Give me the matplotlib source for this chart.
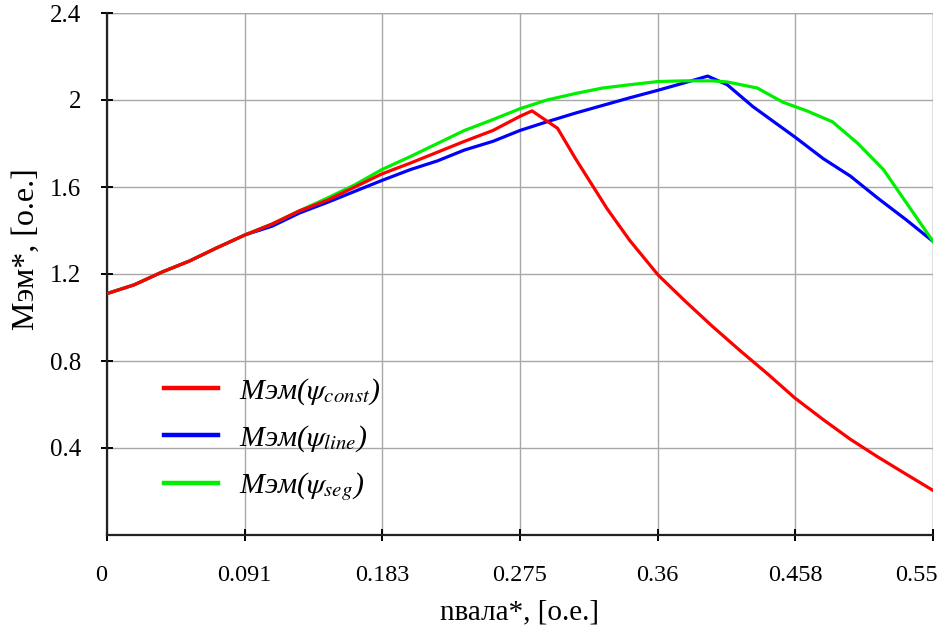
import matplotlib
matplotlib.use('Agg')
import matplotlib.pyplot as plt
import matplotlib.transforms as mtransforms

plt.rcParams['font.family'] = ['Liberation Serif', 'DejaVu Serif']
plt.rcParams['mathtext.fontset'] = 'stix'

# DATA
x_const = [0, 0.018, 0.037, 0.055, 0.073, 0.092, 0.110, 0.128, 0.147, 0.165, 0.183,
           0.202, 0.220, 0.238, 0.257, 0.275, 0.283, 0.300, 0.312, 0.333, 0.348, 0.367,
           0.385, 0.403, 0.422, 0.440, 0.458, 0.477, 0.495, 0.513, 0.532, 0.550]
m_const = [1.11, 1.15, 1.21, 1.26, 1.32, 1.38, 1.43, 1.49, 1.54, 1.60, 1.66,
           1.71, 1.76, 1.81, 1.86, 1.925, 1.95, 1.87, 1.73, 1.50, 1.355, 1.195,
           1.075, 0.96, 0.845, 0.74, 0.63, 0.53, 0.44, 0.36, 0.28, 0.205]

x_line = [0, 0.018, 0.037, 0.055, 0.073, 0.092, 0.110, 0.128, 0.147, 0.165, 0.183,
          0.202, 0.220, 0.238, 0.257, 0.275, 0.293, 0.312, 0.330, 0.348, 0.367, 0.385,
          0.400, 0.413, 0.430, 0.440, 0.458, 0.477, 0.495, 0.513, 0.532, 0.550]
m_line = [1.11, 1.15, 1.21, 1.26, 1.32, 1.38, 1.42, 1.48, 1.53, 1.58, 1.63,
          1.68, 1.72, 1.77, 1.81, 1.86, 1.90, 1.94, 1.975, 2.01, 2.045, 2.08,
          2.11, 2.07, 1.97, 1.92, 1.83, 1.73, 1.65, 1.55, 1.45, 1.35]

x_seg = [0, 0.018, 0.037, 0.055, 0.073, 0.092, 0.110, 0.128, 0.147, 0.165, 0.183,
         0.202, 0.220, 0.238, 0.257, 0.275, 0.293, 0.312, 0.330, 0.348, 0.367, 0.385,
         0.403, 0.413, 0.433, 0.450, 0.466, 0.483, 0.500, 0.517, 0.532, 0.550]
m_seg = [1.11, 1.15, 1.21, 1.26, 1.32, 1.38, 1.43, 1.49, 1.55, 1.61, 1.68,
         1.74, 1.80, 1.86, 1.91, 1.96, 2.00, 2.03, 2.055, 2.07, 2.085, 2.088,
         2.088, 2.083, 2.055, 1.99, 1.95, 1.90, 1.80, 1.68, 1.53, 1.35]

x_ticks = [0, 0.55 / 6, 0.55 * 2 / 6, 0.55 * 3 / 6, 0.55 * 4 / 6, 0.55 * 5 / 6, 0.55]
x_tick_labels = ['0', '0.091', '0.183', '0.275', '0.36', '0.458', '0.55']
y_ticks = [0.4, 0.8, 1.2, 1.6, 2.0, 2.4]
y_tick_labels = ['0.4', '0.8', '1.2', '1.6', '2', '2.4']

labels = [r'Mэм($\psi_{const}$)', r'Mэм($\psi_{line}$)', r'Mэм($\psi_{seg}$)']

# FIGURE
fig = plt.figure(figsize=(9.42, 6.37), dpi=100)
ax = fig.add_axes([107 / 942, 1 - 535 / 637, 826 / 942, 522 / 637])

ax.plot(x_const, m_const, color='#ff0000', lw=2.3, label=labels[0], zorder=4)
ax.plot(x_line, m_line, color='#0000ff', lw=2.3, label=labels[1], zorder=3)
ax.plot(x_seg, m_seg, color='#00ee00', lw=2.3, label=labels[2], zorder=3)

ax.set_xlim(0, 0.55)
ax.set_ylim(0, 2.4)
ax.set_xticks(x_ticks)
ax.set_xticklabels(x_tick_labels)
ax.set_yticks(y_ticks)
ax.set_yticklabels(y_tick_labels)

ax.grid(True, color='#a8a8a8', lw=1.0)
ax.set_axisbelow(True)
for s in ['top', 'right']:
    ax.spines[s].set_visible(False)
for s in ['left', 'bottom']:
    ax.spines[s].set_linewidth(1.6)
    ax.spines[s].set_color('#222222')
# grid lines at the far edges
ax.axvline(0.55, color='#a8a8a8', lw=1.0, zorder=0)
ax.axhline(2.4, color='#a8a8a8', lw=1.0, zorder=0)

ax.tick_params(axis='x', direction='inout', length=9, width=1.4, pad=17, labelsize=17.5)
ax.tick_params(axis='y', direction='inout', length=9, width=1.4, pad=14, labelsize=18)

# nudge the first and last x labels like the original
xlabs = ax.get_xticklabels()
xlabs[0].set_transform(xlabs[0].get_transform() +
                       mtransforms.ScaledTranslation(-6 / 100, 0, fig.dpi_scale_trans))
xlabs[-1].set_transform(xlabs[-1].get_transform() +
                        mtransforms.ScaledTranslation(-17 / 100, 0, fig.dpi_scale_trans))

ax.set_xlabel('nвала*, [о.е.]', fontsize=21, labelpad=10)
ax.set_ylabel('Мэм*, [о.е.]', fontsize=23, labelpad=8)
ax.yaxis.set_label_coords(-0.08, 0.548)

leg = ax.legend(loc='center left', bbox_to_anchor=(0.055, 0.183), frameon=False,
                prop={'size': 21.5, 'style': 'italic'}, handlelength=1.8,
                handletextpad=0.7, labelspacing=0.55, borderaxespad=0)
for ln in leg.get_lines():
    ln.set_linewidth(3.2)

fig.savefig('out.png', dpi=100)
